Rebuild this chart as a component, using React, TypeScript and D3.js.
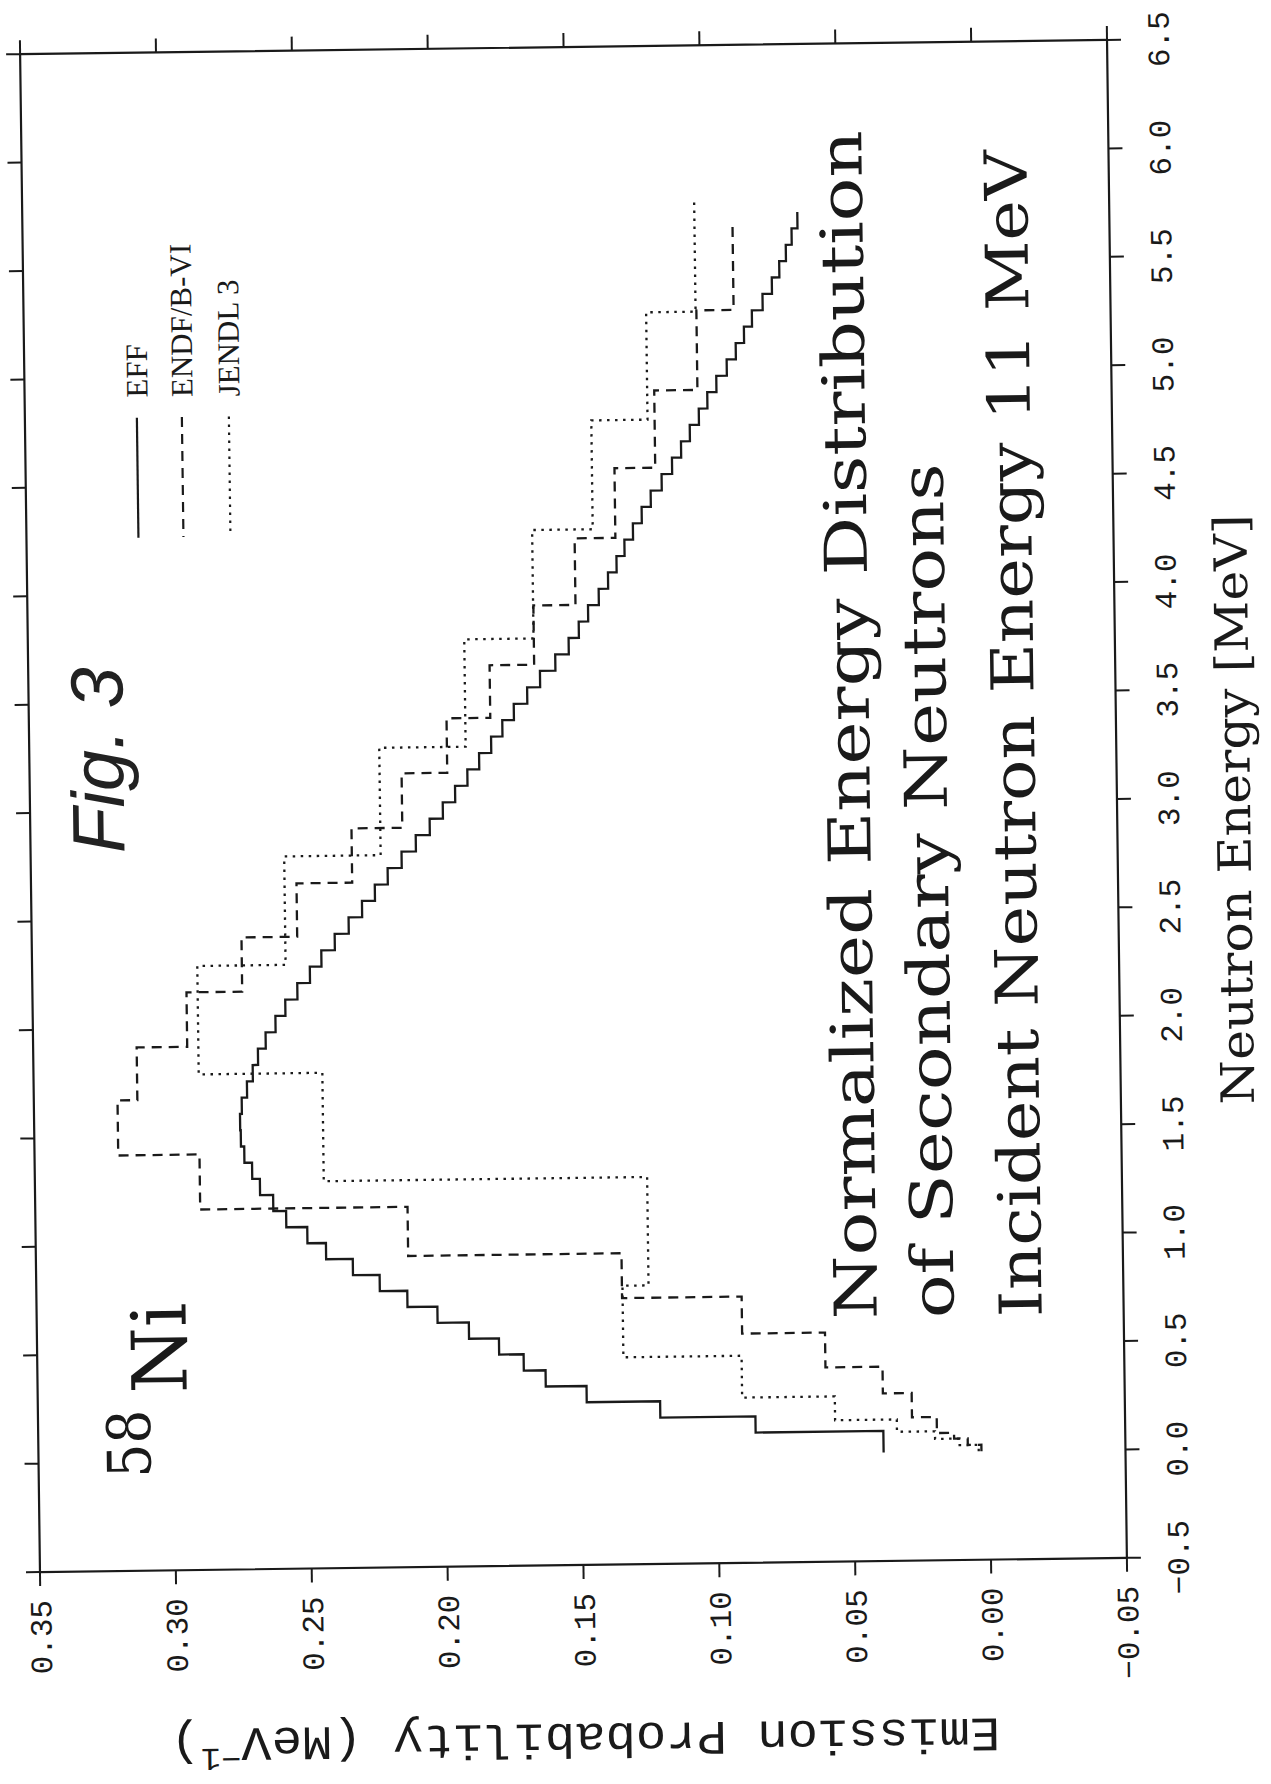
import React from "react";
import * as d3 from "d3";

// ---------- data ----------
const ENERGY_TICKS = [-0.5, 0.0, 0.5, 1.0, 1.5, 2.0, 2.5, 3.0, 3.5, 4.0, 4.5, 5.0, 5.5, 6.0, 6.5];
const PROB_TICKS = [0.35, 0.3, 0.25, 0.2, 0.15, 0.1, 0.05, 0.0, -0.05];

// EFF: fine histogram, first bin 0-0.1 MeV, then 0.075 MeV bins
const EFF_FIRST_EDGE = 0.1;
const EFF_BIN = 0.075;
const EFF_VALUES = [
  0.039, 0.086, 0.121, 0.148, 0.163, 0.171, 0.18, 0.191, 0.2025, 0.2135,
  0.2236, 0.2334, 0.2432, 0.25, 0.2577, 0.2624, 0.2672, 0.27, 0.2728, 0.274,
  0.2742, 0.2735, 0.2715, 0.2693, 0.2673, 0.2644, 0.2607, 0.257, 0.2525, 0.2478,
  0.2435, 0.2385, 0.2333, 0.2283, 0.2235, 0.2187, 0.2135, 0.2082, 0.203, 0.1981,
  0.1935, 0.1889, 0.1845, 0.18, 0.1758, 0.1715, 0.1665, 0.1617, 0.156, 0.151,
  0.1472, 0.1437, 0.1397, 0.1362, 0.133, 0.13, 0.1268, 0.1235, 0.1201, 0.116,
  0.1121, 0.1087, 0.1054, 0.102, 0.0988, 0.0954, 0.0915, 0.0881, 0.085, 0.082,
  0.078, 0.0745, 0.0717, 0.0692, 0.067, 0.0648,
];
const EFF_EDGES = [0, ...d3.range(EFF_VALUES.length).map((i) => EFF_FIRST_EDGE + i * EFF_BIN)];

// ENDF/B-VI
const ENDF_EDGES = [
  0, 0.03, 0.06, 0.087, 0.161, 0.273, 0.396, 0.557, 0.728, 0.935, 1.162, 1.416, 1.67,
  1.913, 2.164, 2.414, 2.66, 2.91, 3.161, 3.412, 3.654, 3.927, 4.234, 4.555, 4.911, 5.278, 5.68,
];
const ENDF_VALUES = [
  0.003, 0.008, 0.013, 0.0193, 0.0284, 0.039, 0.06, 0.0905, 0.1345, 0.213, 0.2893, 0.3192,
  0.3119, 0.2933, 0.2728, 0.2523, 0.2318, 0.2131, 0.1963, 0.1802, 0.1638, 0.1483, 0.1333,
  0.1183, 0.1024, 0.0887,
];

// JENDL 3
const JENDL_EDGES = [
  0, 0.03, 0.06, 0.095, 0.152, 0.262, 0.455, 0.785, 1.285, 1.785, 2.285, 2.785, 3.28,
  3.775, 4.275, 4.777, 5.272, 5.775,
];
const JENDL_VALUES = [
  0.004, 0.011, 0.02, 0.034, 0.0567, 0.0908, 0.1343, 0.1247, 0.2437, 0.2892, 0.2567,
  0.2212, 0.1894, 0.1639, 0.1416, 0.1209, 0.1027,
];

const LEGEND_LABELS = ["EFF", "ENDF/B-VI", "JENDL 3"];
const LEGEND_DASH = ["none", "10 7", "2.5 5.5"];

const TITLE_LINES = [
  "Normalized Energy Distribution",
  "of Secondary Neutrons",
  "Incident Neutron Energy 11 MeV",
];

// ---------- layout ----------
const W = 1271;
const H = 1784;
const L = 30;
const R = 1117;
const T = 47;
const B = 1565;
const TICK = 14;

const yE = d3.scaleLinear().domain([-0.5, 6.5]).range([B, T]);
const xP = d3.scaleLinear().domain([-0.05, 0.35]).range([R, L]);

const fmtE = d3.format(".1f");
const fmtP = d3.format(".2f");

function stepPoints(edges: number[], values: number[]): [number, number][] {
  const pts: [number, number][] = [];
  values.forEach((v, i) => {
    pts.push([v, edges[i]]);
    pts.push([v, edges[i + 1]]);
  });
  return pts;
}

const line = d3
  .line<[number, number]>()
  .x((d) => xP(d[0]))
  .y((d) => yE(d[1]));

const INK = "#1a1a1a";
const MONO = "'Liberation Mono', 'DejaVu Sans Mono', monospace";
const SERIF = "'DejaVu Serif', serif";
const TIMES = "'Liberation Serif', serif";

export default function App() {
  const series = [
    { edges: EFF_EDGES, values: EFF_VALUES, dash: LEGEND_DASH[0] },
    { edges: ENDF_EDGES, values: ENDF_VALUES, dash: LEGEND_DASH[1] },
    { edges: JENDL_EDGES, values: JENDL_VALUES, dash: LEGEND_DASH[2] },
  ];
  const legendX = [142, 187, 234];
  const titleX = [870, 947, 1035];
  const titleLen = [1189, 855, 1167];

  return (
    <svg
      width={W}
      height={H}
      viewBox={`0 0 ${W} ${H}`}
      style={{ position: "absolute", left: 0, top: 0, background: "#fff" }}
    >
      <rect x={0} y={0} width={W} height={H} fill="#fff" />
      <g transform="rotate(-0.75 574 806)">
        {/* frame */}
        <rect x={L} y={T} width={R - L} height={B - T} fill="none" stroke={INK} strokeWidth={2.2} />
        {/* probability ticks: bottom & top */}
        {PROB_TICKS.map((p) => (
          <g key={"p" + p}>
            <line x1={xP(p)} x2={xP(p)} y1={B} y2={B + TICK} stroke={INK} strokeWidth={2} />
            <line x1={xP(p)} x2={xP(p)} y1={T} y2={T - TICK} stroke={INK} strokeWidth={2} />
            <text
              transform={`translate(${xP(p)},1593) rotate(-90)`}
              textAnchor="end"
              dy="0.35em"
              fontFamily={MONO}
              fontSize={31}
              fill={INK}
            >
              {fmtP(p)}
            </text>
          </g>
        ))}
        {/* energy ticks: right & left */}
        {ENERGY_TICKS.map((e) => (
          <g key={"e" + e}>
            <line x1={R} x2={R + TICK} y1={yE(e)} y2={yE(e)} stroke={INK} strokeWidth={2} />
            <line x1={L} x2={L - TICK} y1={yE(e)} y2={yE(e)} stroke={INK} strokeWidth={2} />
            <text
              transform={`translate(1168,${yE(e)}) rotate(-90)`}
              textAnchor="middle"
              dy="0.35em"
              fontFamily={MONO}
              fontSize={31}
              fill={INK}
            >
              {fmtE(e)}
            </text>
          </g>
        ))}

        {/* histograms */}
        {series.map((s, i) => (
          <path
            key={"s" + i}
            d={line(stepPoints(s.edges, s.values)) || ""}
            fill="none"
            stroke={INK}
            strokeWidth={2.3}
            strokeDasharray={s.dash === "none" ? undefined : s.dash}
          />
        ))}

        {/* legend */}
        {LEGEND_LABELS.map((lab, i) => (
          <g key={lab}>
            <line
              x1={legendX[i]}
              x2={legendX[i]}
              y1={412}
              y2={532}
              stroke={INK}
              strokeWidth={2.2}
              strokeDasharray={LEGEND_DASH[i] === "none" ? undefined : LEGEND_DASH[i]}
            />
            <text
              transform={`translate(${legendX[i]},392) rotate(-90)`}
              dy="0.35em"
              fontFamily={TIMES}
              fontSize={31}
              fill={INK}
            >
              {lab}
            </text>
          </g>
        ))}

        {/* title block */}
        {TITLE_LINES.map((t, i) => (
          <text
            key={t}
            transform={`translate(${titleX[i]},1323) rotate(-90)`}
            fontFamily={SERIF}
            fontSize={59}
            textLength={titleLen[i]}
            lengthAdjust="spacingAndGlyphs"
            fill={INK}
          >
            {t}
          </text>
        ))}

        {/* 58Ni */}
        <text transform="translate(142,1472) rotate(-90)" fontFamily={SERIF} fontSize={60} textLength={68} lengthAdjust="spacingAndGlyphs" fill={INK}>
          58
        </text>
        <text transform="translate(179,1388) rotate(-90)" fontFamily={SERIF} fontSize={76} fill={INK}>
          Ni
        </text>

        {/* Fig. 3 handwritten */}
        <text
          transform="translate(124,847) rotate(-90)"
          fontFamily="'Liberation Sans', sans-serif"
          fontStyle="italic"
          fontSize={74}
          textLength={186}
          lengthAdjust="spacingAndGlyphs"
          fill="#222"
        >
          Fig. 3
        </text>

        {/* axis titles */}
        <text
          transform="translate(1250,818) rotate(-90)"
          textAnchor="middle"
          fontFamily={SERIF}
          fontSize={46}
          textLength={590}
          lengthAdjust="spacingAndGlyphs"
          fill={INK}
        >
          Neutron Energy [MeV]
        </text>
        <text
          transform="translate(573,1724) rotate(180)"
          textAnchor="middle"
          fontFamily={MONO}
          fontSize={48}
          textLength={830}
          lengthAdjust="spacingAndGlyphs"
          fill={INK}
        >
          Emission Probability (MeV
          <tspan fontSize={32} dy={-20}>
            −1
          </tspan>
          <tspan dy={20}>)</tspan>
        </text>
      </g>
    </svg>
  );
}
